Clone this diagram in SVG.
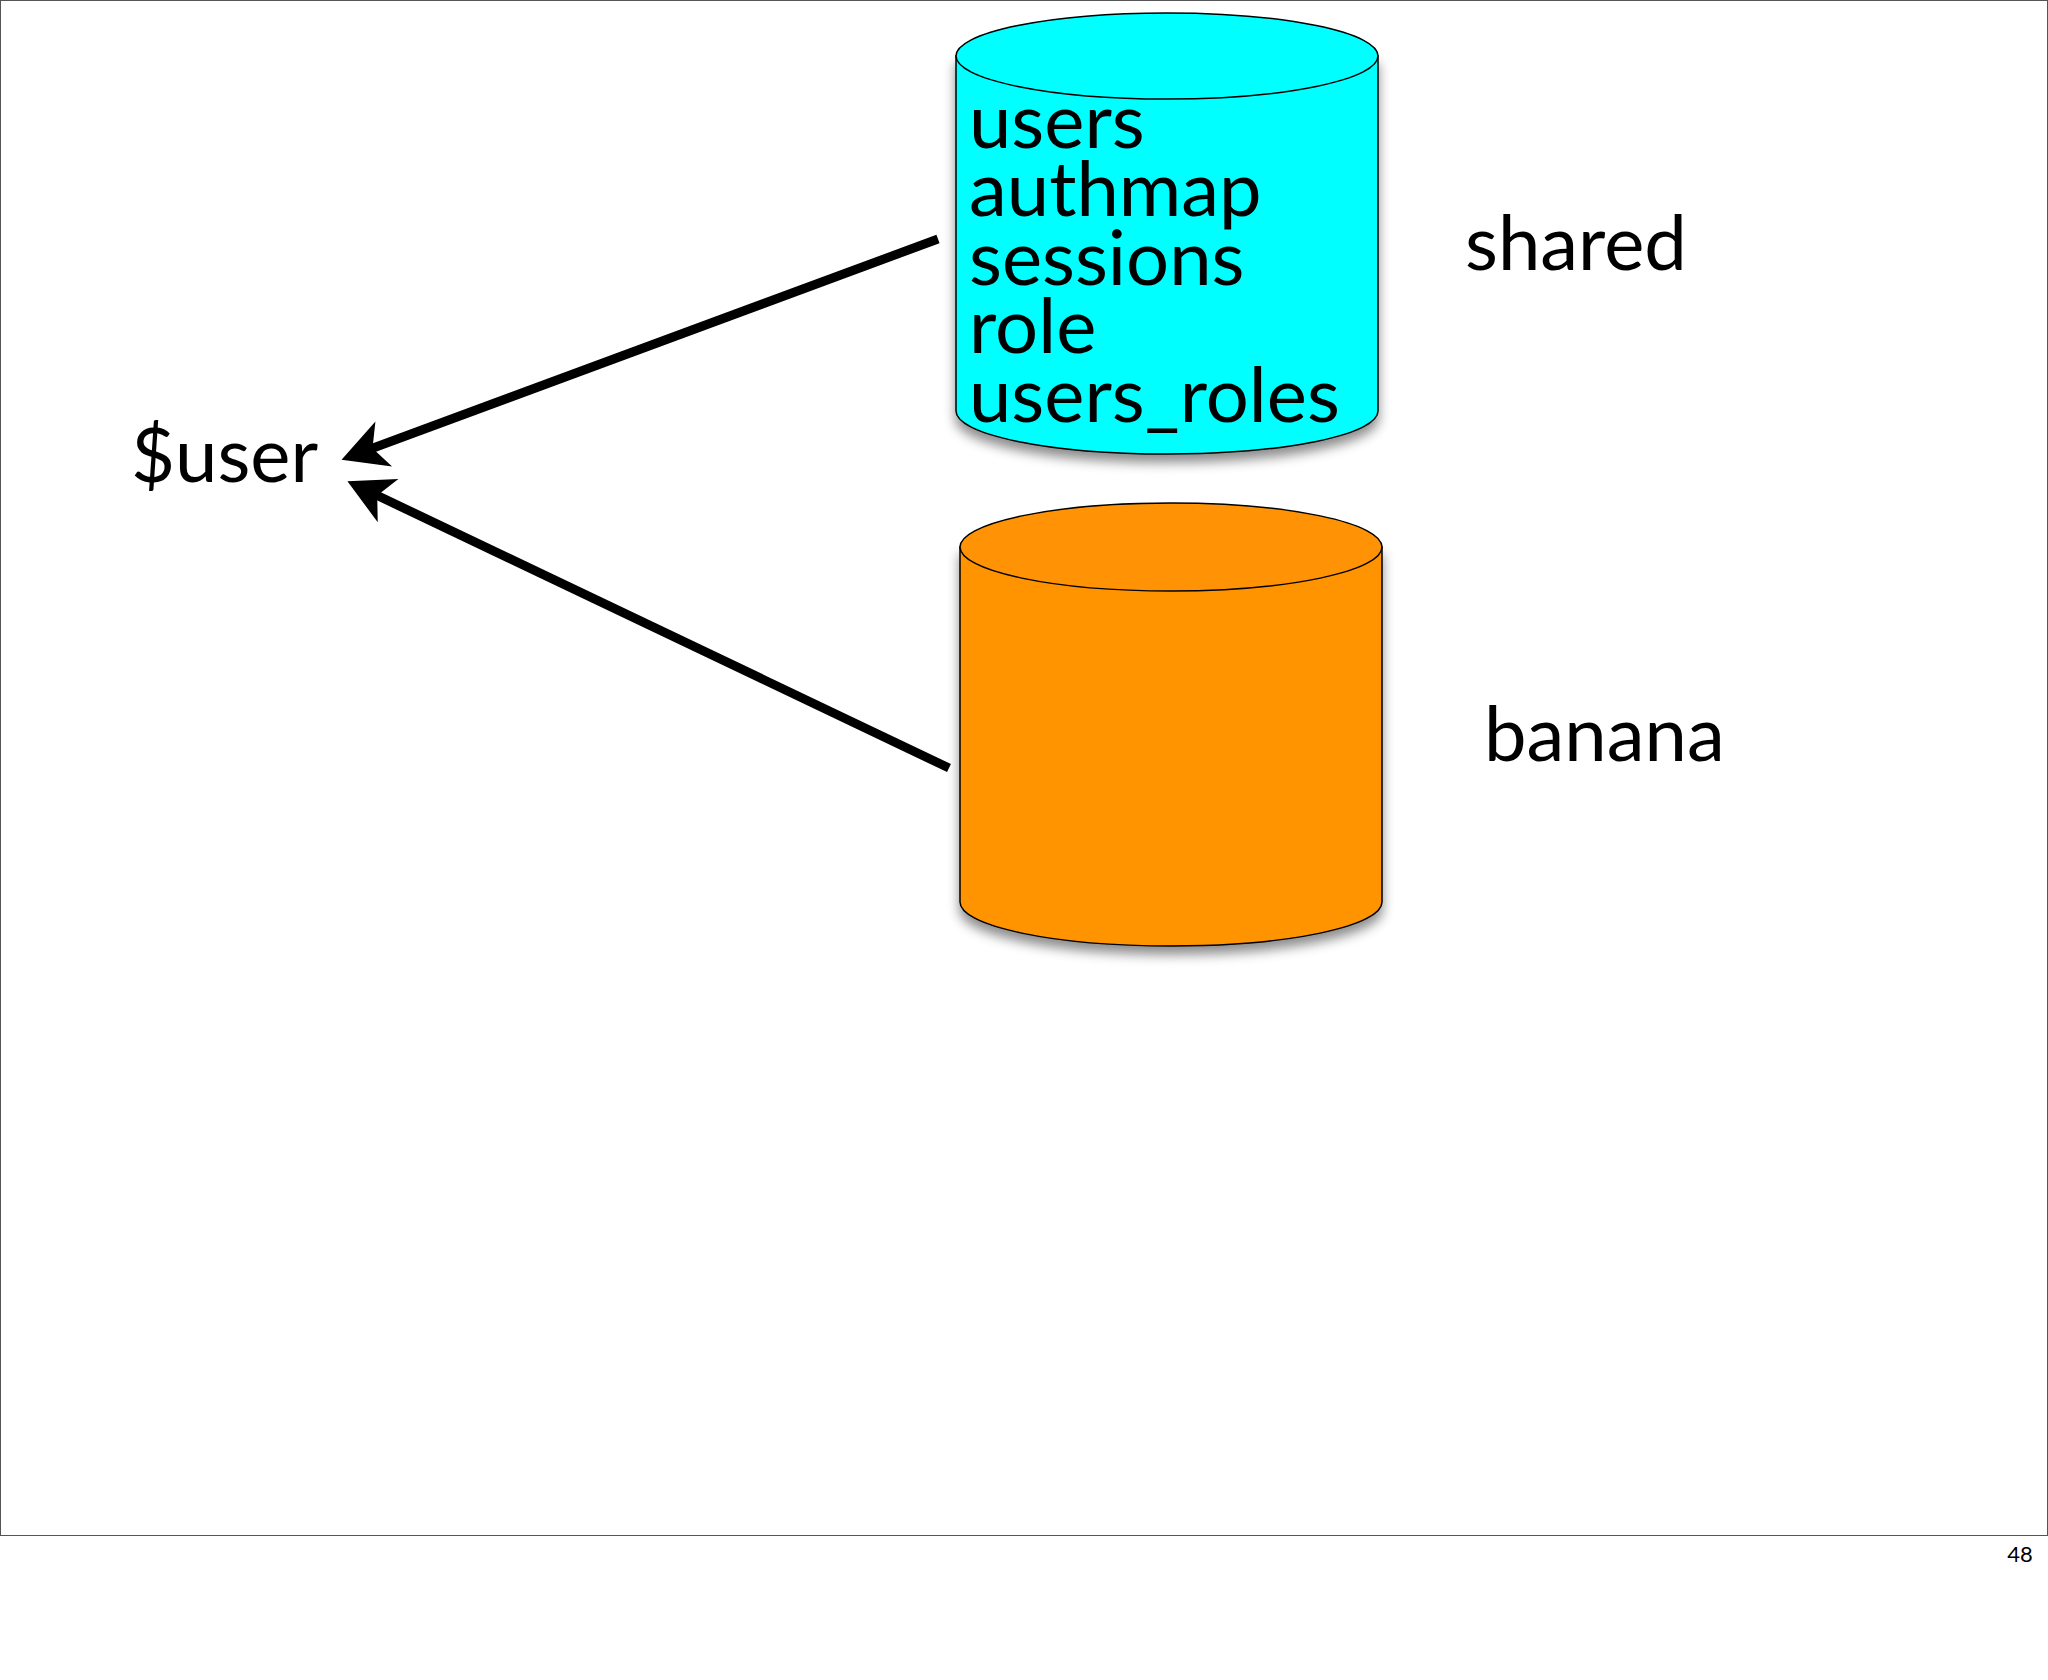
<svg xmlns="http://www.w3.org/2000/svg" width="2048" height="1680" viewBox="0 0 2048 1680">
<style>
text{font-family:"Lato","Open Sans",sans-serif;fill:#000}
.big{font-size:76px}
.cyl{stroke:#000;stroke-width:1.5}
</style>
<defs>
<marker id="ah" viewBox="-45 -25 70 50" refX="0" refY="0" markerWidth="70" markerHeight="50" orient="auto" markerUnits="userSpaceOnUse">
<path d="M25,0 L-20,-24 L-8,0 L-20,24 Z" fill="#000"/>
</marker>
<filter id="sh" x="-10%" y="-10%" width="120%" height="130%">
<feDropShadow dx="0" dy="8" stdDeviation="6" flood-color="#000" flood-opacity="0.45"/>
</filter>
</defs>
<rect x="0.5" y="0.5" width="2047" height="1535" fill="#fff" stroke="#555" stroke-width="1"/>
<g id="shared-db">
<path class="cyl" filter="url(#sh)" fill="#00ffff" d="M956,56 L956,411 A211,43 0 0 0 1378,411 L1378,56 Z"/>
<ellipse class="cyl" cx="1167" cy="56" rx="211" ry="43" fill="#00ffff"/>
<text class="big" x="969" y="148">users</text>
<text class="big" x="969" y="216">authmap</text>
<text class="big" x="969" y="285">sessions</text>
<text class="big" x="969" y="353">role</text>
<text class="big" x="969" y="422">users_roles</text>
</g>
<g id="banana-db">
<path class="cyl" filter="url(#sh)" fill="#ff9305" d="M960,547 L960,902 A211,44 0 0 0 1382,902 L1382,547 Z"/>
<ellipse class="cyl" cx="1171" cy="547" rx="211" ry="44" fill="#ff9305"/>
</g>
<g id="labels">
<text class="big" x="1465" y="270">shared</text>
<text class="big" x="1484" y="761">banana</text>
</g>
<g id="user"><text class="big" x="131" y="482">$user</text></g>
<g id="connectors" stroke="#000" stroke-width="9" fill="none">
<line x1="938" y1="239" x2="365" y2="451" marker-end="url(#ah)"/>
<line x1="949" y1="768" x2="370" y2="492" marker-end="url(#ah)"/>
</g>
<text x="2020" y="1562" font-size="22" font-family="Liberation Sans,sans-serif" text-anchor="middle">48</text>
</svg>
